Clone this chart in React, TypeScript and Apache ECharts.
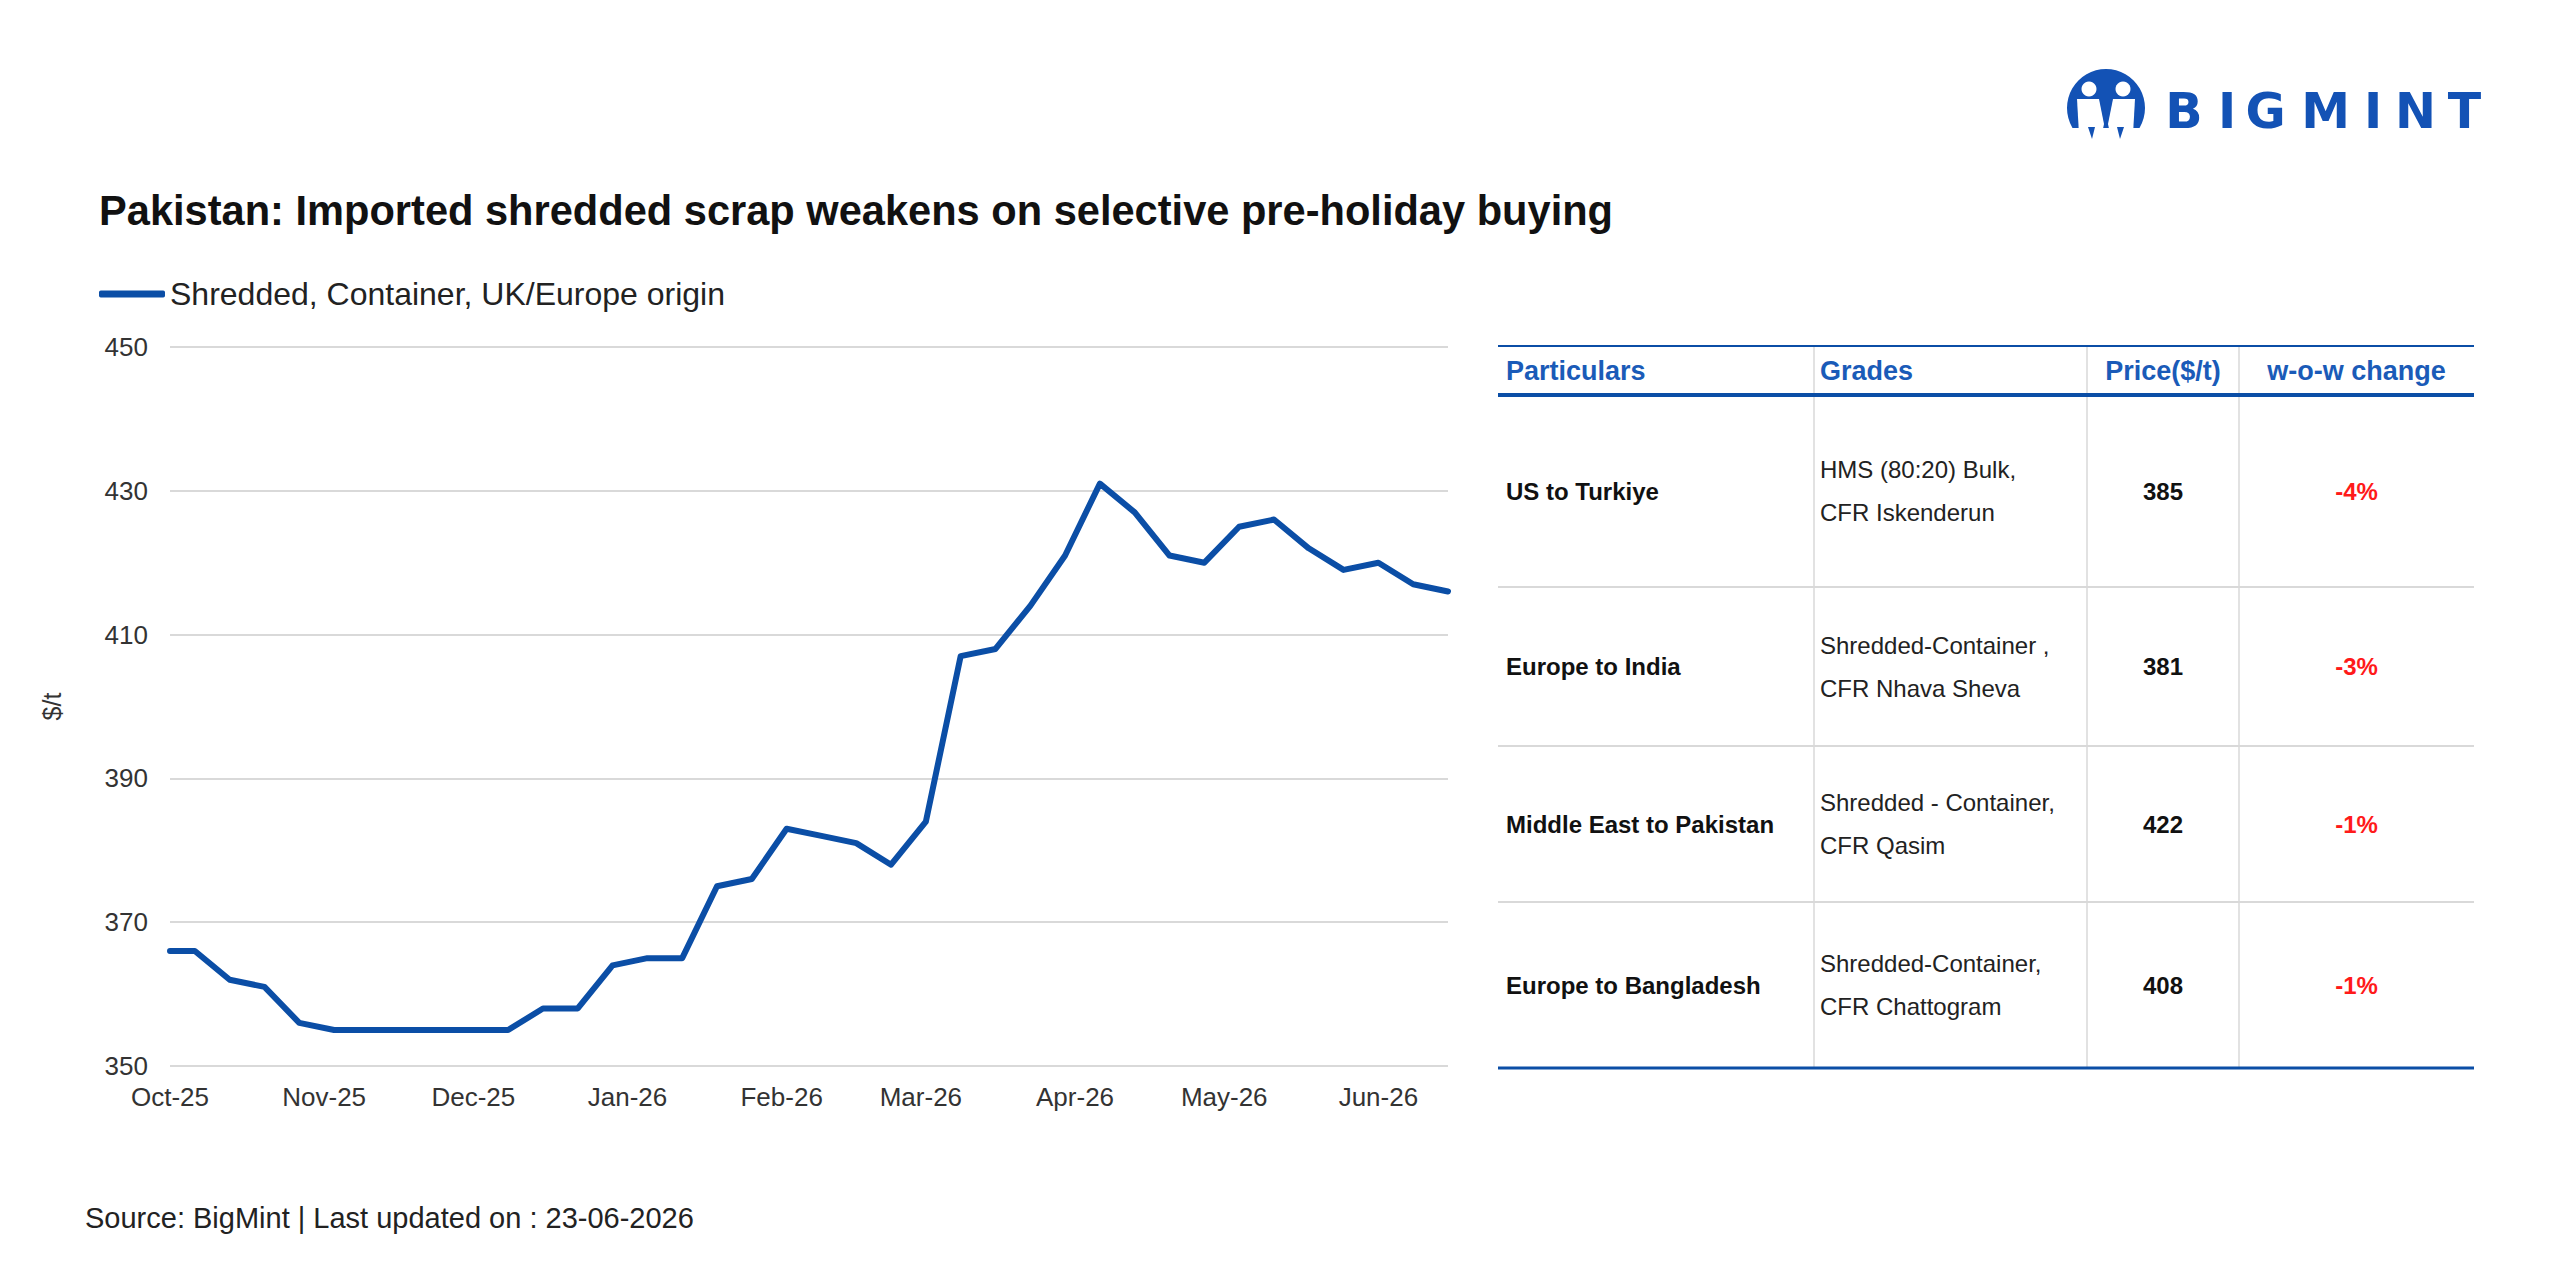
import React, { useEffect, useRef } from 'react';
import * as echarts from 'echarts';

const FONT = '"Liberation Sans", Arial, sans-serif';
const LOGO_FONT = '"DejaVu Sans", "Liberation Sans", sans-serif';

const chartTitle = 'Pakistan: Imported shredded scrap weakens on selective pre-holiday buying';
const seriesName = 'Shredded, Container, UK/Europe origin';
const yAxisName = '$/t';
const sourceText = 'Source: BigMint | Last updated on : 23-06-2026';

const dates = [
  '2025-10-02', '2025-10-07', '2025-10-14', '2025-10-21', '2025-10-28',
  '2025-11-04', '2025-11-11', '2025-11-18', '2025-11-25',
  '2025-12-02', '2025-12-09', '2025-12-16', '2025-12-23', '2025-12-30',
  '2026-01-06', '2026-01-13', '2026-01-20', '2026-01-27',
  '2026-02-03', '2026-02-10', '2026-02-17', '2026-02-24',
  '2026-03-03', '2026-03-10', '2026-03-17', '2026-03-24', '2026-03-31',
  '2026-04-07', '2026-04-14', '2026-04-21', '2026-04-28',
  '2026-05-05', '2026-05-12', '2026-05-19', '2026-05-26',
  '2026-06-02', '2026-06-09', '2026-06-16',
];

const prices = [
  366, 366, 362, 361, 356,
  355, 355, 355, 355,
  355, 355, 358, 358, 364,
  365, 365, 375, 376,
  383, 382, 381, 378,
  384, 407, 408, 414, 421,
  431, 427, 421, 420,
  425, 426, 422, 419,
  420, 417, 416,
];

const monthTicks = [
  '2025-10-02', '2025-11-02', '2025-12-02', '2026-01-02', '2026-02-02',
  '2026-03-02', '2026-04-02', '2026-05-02', '2026-06-02',
];
const monthNames = ['Jan', 'Feb', 'Mar', 'Apr', 'May', 'Jun', 'Jul', 'Aug', 'Sep', 'Oct', 'Nov', 'Dec'];

const yMin = 350;
const yMax = 450;
const yLabelStep = 20;

const tableHeaders = ['Particulars', 'Grades', 'Price($/t)', 'w-o-w change'];
const particulars = ['US to Turkiye', 'Europe to India', 'Middle East to Pakistan', 'Europe to Bangladesh'];
const grades = [
  ['HMS (80:20) Bulk,', 'CFR Iskenderun'],
  ['Shredded-Container ,', 'CFR Nhava Sheva'],
  ['Shredded - Container,', 'CFR Qasim'],
  ['Shredded-Container,', 'CFR Chattogram'],
];
const tablePrices = ['385', '381', '422', '408'];
const wowChange = ['-4%', '-3%', '-1%', '-1%'];

const DAY = 86400000;
const toDay = (s: string) => {
  const [y, m, d] = s.split('-').map(Number);
  return Math.round(Date.UTC(y, m - 1, d) / DAY);
};
const dayLabel = (day: number) => {
  const d = new Date(Math.round(day) * DAY);
  return `${monthNames[d.getUTCMonth()]}-${String(d.getUTCFullYear()).slice(2)}`;
};

const BLUE = '#0b4ea6';
const HEAD_BLUE = '#1a5bb8';
const GRID_GRAY = '#d9d9d9';

function buildTable(): any[] {
  const L = 1498, R = 2474;
  const cols = [L, 1814, 2087, 2239, R];
  const rowEdges = [346, 395, 587, 746, 902, 1068];
  const els: any[] = [];
  [1814, 2087, 2239].forEach((x) => {
    els.push({ type: 'line', shape: { x1: x, y1: 347, x2: x, y2: 1067 }, style: { stroke: GRID_GRAY, lineWidth: 1.5 } });
  });
  for (let i = 2; i < rowEdges.length - 1; i++) {
    els.push({ type: 'line', shape: { x1: L, y1: rowEdges[i], x2: R, y2: rowEdges[i] }, style: { stroke: GRID_GRAY, lineWidth: 2 } });
  }
  els.push({ type: 'line', shape: { x1: L, y1: rowEdges[0], x2: R, y2: rowEdges[0] }, style: { stroke: BLUE, lineWidth: 2 } });
  els.push({ type: 'line', shape: { x1: L, y1: rowEdges[1], x2: R, y2: rowEdges[1] }, style: { stroke: BLUE, lineWidth: 4 } });
  els.push({ type: 'line', shape: { x1: L, y1: rowEdges[5], x2: R, y2: rowEdges[5] }, style: { stroke: BLUE, lineWidth: 3 } });

  const headY = (rowEdges[0] + rowEdges[1]) / 2;
  const headPos = [
    { x: 1506, align: 'left' },
    { x: 1820, align: 'left' },
    { x: (cols[2] + cols[3]) / 2, align: 'center' },
    { x: (cols[3] + cols[4]) / 2, align: 'center' },
  ];
  tableHeaders.forEach((h, i) => {
    els.push({
      type: 'text', x: headPos[i].x, y: headY,
      style: { text: h, fill: HEAD_BLUE, fontSize: 27, fontWeight: 'bold', fontFamily: FONT, align: headPos[i].align, verticalAlign: 'middle' },
    });
  });
  particulars.forEach((p, i) => {
    const cy = (rowEdges[i + 1] + rowEdges[i + 2]) / 2;
    els.push({ type: 'text', x: 1506, y: cy, style: { text: p, fill: '#111', fontSize: 24, fontWeight: 'bold', fontFamily: FONT, align: 'left', verticalAlign: 'middle' } });
    els.push({ type: 'text', x: 1820, y: cy - 21.5, style: { text: grades[i][0], fill: '#222', fontSize: 24, fontFamily: FONT, align: 'left', verticalAlign: 'middle' } });
    els.push({ type: 'text', x: 1820, y: cy + 21.5, style: { text: grades[i][1], fill: '#222', fontSize: 24, fontFamily: FONT, align: 'left', verticalAlign: 'middle' } });
    els.push({ type: 'text', x: (cols[2] + cols[3]) / 2, y: cy, style: { text: tablePrices[i], fill: '#111', fontSize: 24, fontWeight: 'bold', fontFamily: FONT, align: 'center', verticalAlign: 'middle' } });
    els.push({ type: 'text', x: (cols[3] + cols[4]) / 2, y: cy, style: { text: wowChange[i], fill: '#ff1a1a', fontSize: 24, fontWeight: 'bold', fontFamily: FONT, align: 'center', verticalAlign: 'middle' } });
  });
  return els;
}

function buildLogo(): any[] {
  const LB = '#1352b5';
  const els: any[] = [];
  els.push({ type: 'circle', shape: { cx: 2106, cy: 108, r: 39 }, style: { fill: LB } });
  els.push({ type: 'polygon', shape: { points: [[2077, 99], [2099, 99], [2104, 124], [2098, 152], [2080, 152]] }, style: { fill: '#fff' } });
  els.push({ type: 'polygon', shape: { points: [[2135, 99], [2113, 99], [2108, 124], [2114, 152], [2132, 152]] }, style: { fill: '#fff' } });
  els.push({ type: 'circle', shape: { cx: 2089, cy: 89, r: 7.5 }, style: { fill: '#fff' } });
  els.push({ type: 'circle', shape: { cx: 2123, cy: 89, r: 7.5 }, style: { fill: '#fff' } });
  els.push({ type: 'rect', shape: { x: 2060, y: 128, width: 95, height: 25 }, style: { fill: '#fff' } });
  els.push({ type: 'polygon', shape: { points: [[2088, 127], [2095, 127], [2092, 139]] }, style: { fill: LB } });
  els.push({ type: 'polygon', shape: { points: [[2117, 127], [2124, 127], [2120, 139]] }, style: { fill: LB } });
  const letters = ['B', 'I', 'G', 'M', 'I', 'N', 'T'];
  const cx = [2184, 2227, 2265.5, 2325.5, 2373, 2415.5, 2464.5];
  letters.forEach((ch, i) => {
    els.push({ type: 'text', x: cx[i], y: 111, style: { text: ch, fill: LB, fontSize: 49, fontWeight: 'bold', fontFamily: LOGO_FONT, align: 'center', verticalAlign: 'middle' } });
  });
  return els;
}

export default function App() {
  const ref = useRef<HTMLDivElement>(null);
  useEffect(() => {
    if (!ref.current) return;
    const chart = echarts.init(ref.current, undefined, { renderer: 'svg' });
    const option: any = {
      animation: false,
      backgroundColor: '#ffffff',
      textStyle: { fontFamily: FONT },
      title: {
        text: chartTitle,
        left: 94,
        top: 184,
        textStyle: { fontSize: 41.6, fontWeight: 'bold', color: '#111', fontFamily: FONT },
      },
      legend: {
        data: [seriesName],
        left: 94,
        top: 273,
        icon: 'roundRect',
        itemWidth: 66,
        itemHeight: 7,
        textStyle: { fontSize: 32, color: '#222', fontFamily: FONT },
      },
      grid: { left: 170, right: 1112, top: 347, bottom: 214 },
      xAxis: {
        type: 'value',
        min: toDay(dates[0]),
        max: toDay(dates[dates.length - 1]),
        axisLine: { show: false },
        axisTick: { show: false },
        splitLine: { show: false },
        axisLabel: {
          customValues: monthTicks.map(toDay),
          fontSize: 26,
          color: '#333',
          margin: 18,
          fontFamily: FONT,
          formatter: (v: number) => dayLabel(v),
        },
      },
      yAxis: {
        type: 'value',
        min: yMin,
        max: yMax,
        interval: 10,
        name: yAxisName,
        nameLocation: 'middle',
        nameRotate: 90,
        nameGap: 106,
        nameTextStyle: { fontSize: 25, color: '#333', fontFamily: FONT },
        axisLine: { show: false },
        axisTick: { show: false },
        axisLabel: {
          fontSize: 26,
          color: '#333',
          margin: 22,
          fontFamily: FONT,
          formatter: (v: number) => ((v - yMin) % yLabelStep === 0 ? String(v) : ''),
        },
        splitLine: { lineStyle: { color: [GRID_GRAY, 'rgba(0,0,0,0)'], width: 2 } },
      },
      series: [
        {
          name: seriesName,
          type: 'line',
          data: dates.map((d, i) => [toDay(d), prices[i]]),
          showSymbol: false,
          symbol: 'none',
          color: BLUE,
          lineStyle: { width: 6, color: BLUE, cap: 'round', join: 'round' },
        },
      ],
      graphic: {
        elements: [
          ...buildLogo(),
          ...buildTable(),
          {
            type: 'text', x: 85, y: 1218,
            style: { text: sourceText, fill: '#222', fontSize: 29, fontFamily: FONT, align: 'left', verticalAlign: 'middle' },
          },
        ],
      },
    };
    chart.setOption(option);
    return () => chart.dispose();
  }, []);
  return (
    <div
      ref={ref}
      style={{ position: 'absolute', left: 0, top: 0, width: 2560, height: 1280, background: '#fff' }}
    />
  );
}
